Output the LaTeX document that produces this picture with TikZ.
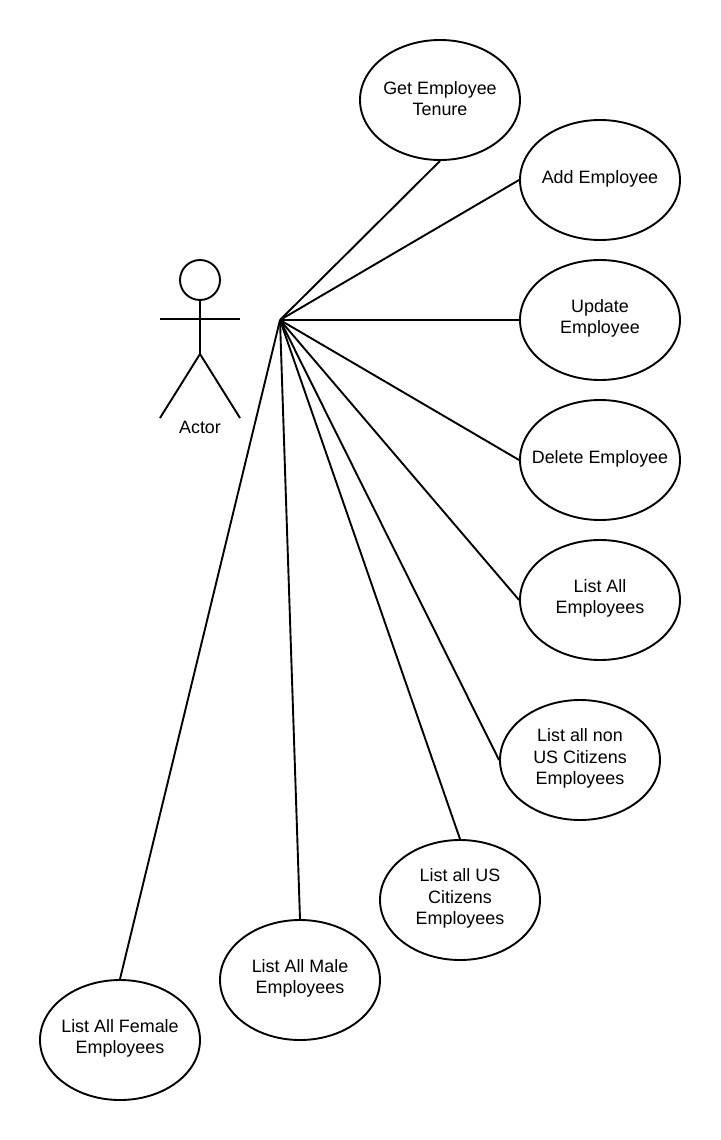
\documentclass[tikz,border=0pt]{standalone}
\usepackage{fontspec}
\setmainfont{Liberation Sans}
\usetikzlibrary{shapes.geometric}
\newcommand{\uctext}[1]{\parbox{150pt}{\centering #1\par\vspace{3pt}}}
\begin{document}
\begin{tikzpicture}[x=1pt,y=-1pt,
  uc/.style={draw=black,line width=1.9pt,ellipse,minimum width=160pt,minimum height=120pt,inner sep=-25pt,align=center,font=\fontsize{17.9}{21.7}\selectfont,text=black},
  conn/.style={draw=black,line width=1.9pt},
  stick/.style={draw=black,line width=1.9pt}]
\useasboundingbox (0,0) rectangle (720,1140);
\fill[white] (0,0) rectangle (720,1140);
\node[uc] (tenure) at (440,100) {\uctext{Get Employee\\Tenure}};
\node[uc] (add) at (600,180) {\uctext{Add Employee}};
\node[uc] (update) at (600,320) {\uctext{Update\\Employee}};
\node[uc] (delete) at (600,460) {\uctext{Delete Employee}};
\node[uc] (listall) at (600,600) {\uctext{List All\\Employees}};
\node[uc] (nonus) at (580,760) {\uctext{List all non\\US Citizens\\Employees}};
\node[uc] (us) at (460,900) {\uctext{List all US\\Citizens\\Employees}};
\node[uc] (male) at (300,980) {\uctext{List All Male\\Employees}};
\node[uc] (female) at (120,1040) {\uctext{List All Female\\Employees}};
\coordinate (hub) at (280,320);
\node[draw=black,line width=1.9pt,circle,minimum size=40pt,inner sep=0pt] (head) at (200,280) {};
\coordinate (armL) at (160,319);
\coordinate (armR) at (240,319);
\coordinate (hip) at (200,354);
\coordinate (footL) at (160,418);
\coordinate (footR) at (240,418);
\draw[stick] (head.south) -- (hip);
\draw[stick] (armL) -- (armR);
\draw[stick] (footL) -- (hip) -- (footR);
\node[font=\fontsize{17.9}{21.7}\selectfont] (actor) at (200,427) {Actor};
\draw[conn] (hub) -- (tenure.south);
\draw[conn] (hub) -- (add.west);
\draw[conn] (hub) -- (update.west);
\draw[conn] (hub) -- (delete.west);
\draw[conn] (hub) -- (listall.west);
\draw[conn] (hub) -- (nonus.west);
\draw[conn] (hub) -- (us.north);
\draw[conn] (hub) -- (male.north);
\draw[conn] (hub) -- (female.north);
\end{tikzpicture}
\end{document}
